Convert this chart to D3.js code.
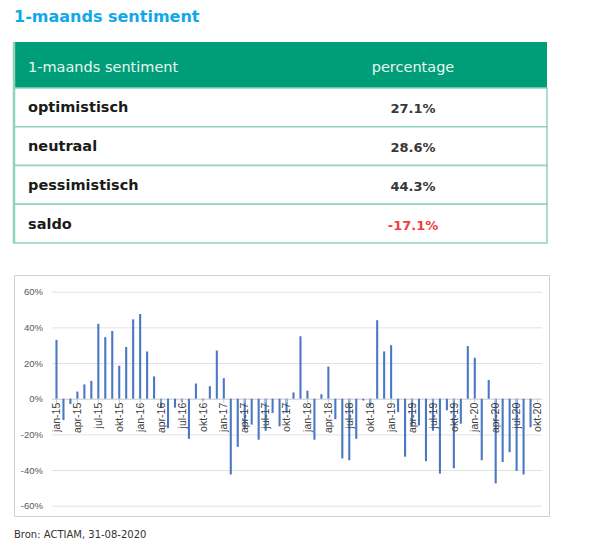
<!DOCTYPE html>
<html>
<head>
<meta charset="utf-8">
<script src="https://cdn.jsdelivr.net/npm/d3@7"></script>
<style>
  body { margin: 0; background: #fff; }
  svg { display: block; }
</style>
</head>
<body>
<svg id="chart" width="604" height="550"></svg>
<script>
// table content
const tableHeader = ['1-maands sentiment', 'percentage'];
const rowLabels = ['optimistisch', 'neutraal', 'pessimistisch', 'saldo'];
const rowValues = [27.1, 28.6, 44.3, -17.1];

// monthly saldo, jan-15 .. okt-20
const monthNames = ['jan', 'feb', 'mrt', 'apr', 'mei', 'jun', 'jul', 'aug', 'sep', 'okt', 'nov', 'dec'];
const years = ['15', '16', '17', '18', '19', '20'];
const saldo = [
  33, -12, -3, 4, 8, 10, 42, 34.5, 38, 18.5, 29, 44.5,          // 2015
  47.5, 26.5, 12.5, -5, -16.5, -5, -2, -22.5, 8.5, -1, 7, 27,   // 2016
  11.5, -42.5, -27, -17, -14.5, -23, -18, -8, -15.5, -8, 3.5, 35, // 2017
  4.5, -23, 2.5, 18, -11.5, -33.5, -34.5, -22.5, -1, -4, 44, 26.5, // 2018
  30, -7.5, -32.5, -15.5, -15, -35, -18, -42, -6.5, -39, -14, 29.5, // 2019
  23, -34.5, 10.5, -47.5, -35.5, -30, -40.5, -42.5, -16, null     // 2020
];
const yTicks = [60, 40, 20, 0, -20, -40, -60];

const months = [];
years.forEach((y) => monthNames.forEach((m) => months.push(`${m}-${y}`)));
months.length = saldo.length;
const data = months.map((m, i) => ({ month: m, value: saldo[i] }));

const svg = d3.select('#chart');
const tableFont = "'DejaVu Sans', Verdana, sans-serif";

// title
svg.append('text')
  .attr('x', 14)
  .attr('y', 22)
  .style('font-family', tableFont)
  .style('font-size', '16px')
  .style('font-weight', 'bold')
  .style('fill', '#10a8e8')
  .text('1-maands sentiment');

// ---- table ----
const tLeft = 14;
const tRight = 547;
const valueX = 413;
const headerTop = 42;
const headerBottom = 88;
const rowScale = d3.scaleBand()
  .domain(rowLabels)
  .range([headerBottom, 243]);

svg.append('rect')
  .attr('x', tLeft)
  .attr('y', headerTop)
  .attr('width', tRight - tLeft)
  .attr('height', headerBottom - headerTop)
  .style('fill', '#009e78');

svg.append('text')
  .attr('x', 28)
  .attr('y', 72)
  .style('font-family', tableFont)
  .style('font-size', '14.5px')
  .style('fill', '#e8f6f1')
  .text(tableHeader[0]);

svg.append('text')
  .attr('x', valueX)
  .attr('y', 72)
  .attr('text-anchor', 'middle')
  .style('font-family', tableFont)
  .style('font-size', '14.5px')
  .style('fill', '#e8f6f1')
  .text(tableHeader[1]);

const rows = svg.selectAll('.trow')
  .data(rowLabels)
  .enter()
  .append('g')
  .attr('class', 'trow')
  .attr('transform', (d) => `translate(0, ${rowScale(d)})`);

rows.append('rect')
  .attr('x', tLeft)
  .attr('y', 0)
  .attr('width', tRight - tLeft)
  .attr('height', rowScale.bandwidth())
  .style('fill', '#fff')
  .style('stroke', '#8fd3bf')
  .style('stroke-width', 1.5);

rows.append('text')
  .attr('x', 28)
  .attr('y', rowScale.bandwidth() / 2 + 5)
  .style('font-family', tableFont)
  .style('font-size', '14.5px')
  .style('font-weight', 'bold')
  .style('fill', '#1a1a1a')
  .text((d) => d);

rows.append('text')
  .attr('x', valueX)
  .attr('y', rowScale.bandwidth() / 2 + 6)
  .attr('text-anchor', 'middle')
  .style('font-family', tableFont)
  .style('font-size', '13px')
  .style('font-weight', 'bold')
  .style('fill', (d, i) => (i === rowLabels.length - 1 ? '#f23c3c' : '#383838'))
  .text((d, i) => `${rowValues[i].toFixed(1)}%`);

// left border of table a bit heavier
svg.append('line')
  .attr('x1', tLeft).attr('x2', tLeft)
  .attr('y1', headerTop).attr('y2', 243)
  .style('stroke', '#8fd3bf')
  .style('stroke-width', 2.5);

// ---- bar chart ----
const chartFont = "'Liberation Sans', Arial, sans-serif";
svg.append('rect')
  .attr('x', 14.5)
  .attr('y', 275.5)
  .attr('width', 535)
  .attr('height', 241)
  .style('fill', '#fff')
  .style('stroke', '#d0d0d0');

const x = d3.scaleBand()
  .domain(months)
  .range([53, 541])
  .paddingInner(0.7)
  .paddingOuter(0.35);

const y = d3.scaleLinear()
  .domain([-60, 60])
  .range([505.7, 291.7]);

const grid = svg.append('g');
grid.selectAll('line')
  .data(yTicks)
  .enter()
  .append('line')
  .attr('x1', 52)
  .attr('x2', 542)
  .attr('y1', (d) => y(d) + 0.5)
  .attr('y2', (d) => y(d) + 0.5)
  .style('stroke', (d) => (d === 0 ? '#c8c8c8' : '#e2e2e2'))
  .style('stroke-width', 1);

const yAxis = d3.axisLeft(y)
  .tickValues(yTicks)
  .tickSize(0)
  .tickPadding(0)
  .tickFormat((d) => `${d}%`);

svg.append('g')
  .attr('transform', 'translate(43, 0)')
  .call(yAxis)
  .call((g) => g.select('.domain').remove())
  .call((g) => g.selectAll('text')
    .style('font-family', chartFont)
    .style('font-size', '9.5px')
    .style('fill', '#595959'));

// bars
svg.append('g')
  .selectAll('rect')
  .data(data.filter((d) => d.value !== null))
  .enter()
  .append('rect')
  .attr('x', (d) => x(d.month))
  .attr('width', x.bandwidth())
  .attr('y', (d) => y(Math.max(0, d.value)))
  .attr('height', (d) => Math.abs(y(d.value) - y(0)))
  .style('fill', '#4a78c4');

// x labels every 3 months on the zero line
const xLabels = months.filter((m, i) => i % 3 === 0);
const xAxis = d3.axisBottom(x)
  .tickValues(xLabels)
  .tickSize(4)
  .tickPadding(3);

svg.append('g')
  .attr('transform', `translate(0, ${y(0)})`)
  .call(xAxis)
  .call((g) => g.select('.domain').remove())
  .call((g) => g.selectAll('.tick line').style('stroke', '#c8c8c8'))
  .call((g) => g.selectAll('text')
    .attr('transform', 'rotate(-90)')
    .attr('x', -4)
    .attr('y', 0)
    .attr('dy', '0.35em')
    .attr('text-anchor', 'end')
    .style('font-family', chartFont)
    .style('font-size', '10.5px')
    .style('fill', '#404040'));

// source
svg.append('text')
  .attr('x', 14)
  .attr('y', 538)
  .style('font-family', tableFont)
  .style('font-size', '10px')
  .style('fill', '#333')
  .text('Bron: ACTIAM, 31-08-2020');
</script>
</body>
</html>
